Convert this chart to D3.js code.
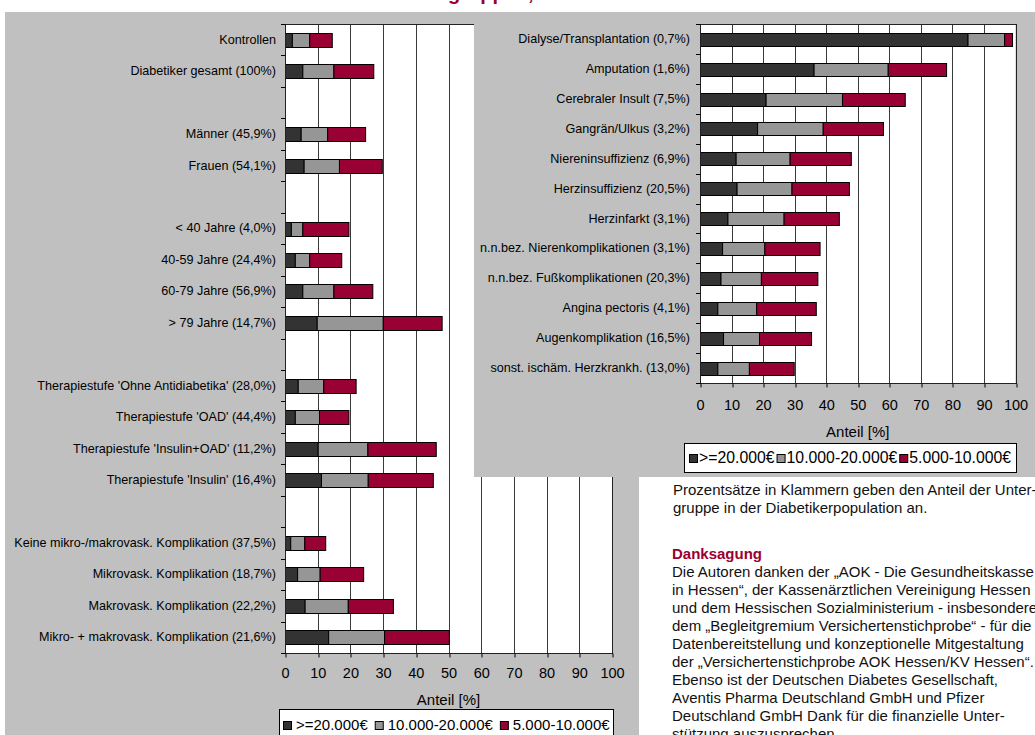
<!DOCTYPE html>
<html><head><meta charset="utf-8">
<script src="https://cdn.jsdelivr.net/npm/d3@7"></script>
<style>
body{margin:0;background:#fff;}
svg{display:block;font-family:Arial,"Liberation Sans",sans-serif;}
</style>
</head><body>
<svg id="c" width="1035" height="735"></svg>
<script>
// ---------- data ----------
const seriesNames = [">=20.000€", "10.000-20.000€", "5.000-10.000€"];
const xTicks = [0, 10, 20, 30, 40, 50, 60, 70, 80, 90, 100];
const axisTitle = "Anteil [%]";

const leftCategories = [
  "Kontrollen", "Diabetiker gesamt (100%)", "",
  "Männer (45,9%)", "Frauen (54,1%)", "",
  "< 40 Jahre (4,0%)", "40-59 Jahre (24,4%)", "60-79 Jahre (56,9%)", "> 79 Jahre (14,7%)", "",
  "Therapiestufe 'Ohne Antidiabetika' (28,0%)", "Therapiestufe 'OAD' (44,4%)",
  "Therapiestufe 'Insulin+OAD' (11,2%)", "Therapiestufe 'Insulin' (16,4%)", "",
  "Keine mikro-/makrovask. Komplikation (37,5%)", "Mikrovask. Komplikation (18,7%)",
  "Makrovask. Komplikation (22,2%)", "Mikro- + makrovask. Komplikation (21,6%)"
];
const leftHigh = [2.1, 5.3, null, 4.8, 5.7, null, 1.8, 3.0, 5.3, 9.7, null, 3.9, 3.0, 10.0, 11.0, null, 1.6, 3.7, 6.0, 13.2];
const leftMid  = [5.3, 9.5, null, 8.1, 10.8, null, 3.5, 4.4, 9.5, 20.2, null, 7.8, 7.4, 15.2, 14.3, null, 4.3, 6.9, 13.2, 17.1];
const leftLow  = [6.9, 12.2, null, 11.6, 13.1, null, 14.1, 9.8, 11.9, 18.0, null, 9.9, 9.0, 20.9, 19.9, null, 6.4, 13.3, 13.8, 19.8];

const rightCategories = [
  "Dialyse/Transplantation (0,7%)", "Amputation (1,6%)", "Cerebraler Insult (7,5%)",
  "Gangrän/Ulkus (3,2%)", "Niereninsuffizienz (6,9%)", "Herzinsuffizienz (20,5%)",
  "Herzinfarkt (3,1%)", "n.n.bez. Nierenkomplikationen (3,1%)", "n.n.bez. Fußkomplikationen (20,3%)",
  "Angina pectoris (4,1%)", "Augenkomplikation (16,5%)", "sonst. ischäm. Herzkrankh. (13,0%)"
];
const rightHigh = [84.8, 36.0, 20.8, 18.1, 11.3, 11.6, 8.7, 7.0, 6.5, 5.5, 7.3, 5.5];
const rightMid  = [11.6, 23.5, 24.2, 20.8, 17.1, 17.4, 17.8, 13.4, 12.8, 12.3, 11.4, 10.0];
const rightLow  = [2.5, 18.5, 19.9, 19.1, 19.4, 18.2, 17.5, 17.5, 17.9, 18.9, 16.5, 14.2];

const titleText = "Untergruppen,";
const noteLines = [
  "Prozentsätze in Klammern geben den Anteil der Unter-",
  "gruppe in der Diabetikerpopulation an."
];
const thanksTitle = "Danksagung";
const thanksLines = [
  "Die Autoren danken der „AOK - Die Gesundheitskasse",
  "in Hessen“, der Kassenärztlichen Vereinigung Hessen",
  "und dem Hessischen Sozialministerium - insbesondere",
  "dem „Begleitgremium Versichertenstichprobe“ - für die",
  "Datenbereitstellung und konzeptionelle Mitgestaltung",
  "der „Versichertenstichprobe AOK Hessen/KV Hessen“.",
  "Ebenso ist der Deutschen Diabetes Gesellschaft,",
  "Aventis Pharma Deutschland GmbH und Pfizer",
  "Deutschland GmbH Dank für die finanzielle Unter-",
  "stützung auszusprechen."
];

// ---------- styles ----------
const colors = ["#333333", "#969696", "#990033"];
const panelGray = "#c0c0c0";
const maroon = "#990033";

const svg = d3.select("#c");

function drawChart(cfg) {
  const g = svg.append("g");
  const x = d3.scaleLinear().domain([0, 100]).range([cfg.x0, cfg.x1]);
  const keys = cfg.cats.map((c, i) => i);
  const y = d3.scaleBand().domain(keys).range([cfg.y0, cfg.y1])
    .paddingInner(cfg.pad).paddingOuter(cfg.pad / 2);

  g.append("rect").attr("x", cfg.x0).attr("y", cfg.y0)
    .attr("width", cfg.x1 - cfg.x0).attr("height", cfg.y1 - cfg.y0).attr("fill", "#fff");

  // grid lines
  g.selectAll("line.grid").data(xTicks.slice(1, -1)).join("line")
    .attr("x1", d => Math.round(x(d)) + 0.5).attr("x2", d => Math.round(x(d)) + 0.5)
    .attr("y1", cfg.y0).attr("y2", cfg.y1)
    .attr("stroke", "#3a3a3a").attr("stroke-width", 1);

  // stacked bars
  const rows = cfg.cats.map((c, i) => ({ key: i, high: cfg.high[i], mid: cfg.mid[i], low: cfg.low[i] }))
    .filter(r => r.high != null);
  const stacked = d3.stack().keys(["high", "mid", "low"])(rows);
  g.selectAll("g.series").data(stacked).join("g").attr("class", "series")
    .attr("fill", (d, i) => colors[i])
    .selectAll("rect").data(d => d).join("rect")
    .attr("x", d => x(d[0]) + 0.5)
    .attr("width", d => Math.max(0, x(d[1]) - x(d[0])))
    .attr("y", d => Math.round(y(d.data.key)) + 0.5)
    .attr("height", Math.round(y.bandwidth()))
    .attr("stroke", "#000").attr("stroke-width", 1);

  // plot border
  g.append("rect").attr("x", Math.round(cfg.x0) + 0.5).attr("y", Math.round(cfg.y0) + 0.5)
    .attr("width", Math.round(cfg.x1 - cfg.x0)).attr("height", Math.round(cfg.y1 - cfg.y0))
    .attr("fill", "none").attr("stroke", "#222").attr("stroke-width", 1);

  // category tick marks (between categories)
  const step = y.step();
  const bounds = d3.range(cfg.cats.length + 1).map(i => cfg.y0 + i * step);
  g.selectAll("line.ytick").data(bounds).join("line")
    .attr("x1", Math.round(cfg.x0) - 4).attr("x2", Math.round(cfg.x0) + 0.5)
    .attr("y1", d => Math.round(d) + 0.5).attr("y2", d => Math.round(d) + 0.5)
    .attr("stroke", "#000");

  // category labels via axis
  const ya = g.append("g").attr("transform", `translate(${cfg.x0},0)`)
    .call(d3.axisLeft(y).tickSize(0).tickPadding(cfg.labelPad).tickFormat(i => cfg.cats[i]));
  ya.select(".domain").remove();
  ya.selectAll("text").attr("font-size", cfg.labelSize).attr("fill", "#000")
    .attr("font-family", "Arial, 'Liberation Sans', sans-serif");

  // x axis
  const xa = g.append("g").attr("transform", `translate(0,${Math.round(cfg.y1) + 0.5})`)
    .call(d3.axisBottom(x).tickValues(xTicks).tickSize(4).tickSizeOuter(0).tickPadding(cfg.tickPad));
  xa.select(".domain").remove();
  xa.selectAll("line").attr("stroke", "#000")
    .attr("transform", d => `translate(${Math.round(x(d)) + 0.5 - x(d)},0)`);
  xa.selectAll("text").attr("font-size", cfg.tickSize).attr("fill", "#000")
    .attr("font-family", "Arial, 'Liberation Sans', sans-serif");

  // axis title
  g.append("text").attr("x", (cfg.x0 + cfg.x1) / 2).attr("y", cfg.titleY)
    .attr("text-anchor", "middle").attr("font-size", 15).attr("fill", "#000").text(axisTitle);

  // legend
  const lg = g.append("g");
  lg.append("rect").attr("x", cfg.leg.x + 0.5).attr("y", cfg.leg.y + 0.5)
    .attr("width", cfg.leg.w).attr("height", cfg.leg.h)
    .attr("fill", "#fff").attr("stroke", "#000");
  const items = lg.append("g");
  let cx = 0;
  const cy = cfg.leg.y + cfg.leg.h / 2;
  seriesNames.forEach((name, i) => {
    items.append("rect").attr("x", cx + 0.5).attr("y", Math.round(cy - 4) + 0.5)
      .attr("width", 8).attr("height", 8).attr("fill", colors[i]).attr("stroke", "#000");
    cx += 8 + cfg.leg.markGap;
    const t = items.append("text").attr("x", cx).attr("y", cy).attr("dy", "0.35em")
      .attr("font-size", cfg.leg.size).attr("fill", "#000").text(name);
    cx += t.node().getComputedTextLength() + cfg.leg.itemGap;
  });
  cx -= cfg.leg.itemGap;
  items.attr("transform", `translate(${Math.round(cfg.leg.x + (cfg.leg.w - cx) / 2)},0)`);
}

// left panel background
svg.append("rect").attr("x", 5).attr("y", 12).attr("width", 634).attr("height", 723).attr("fill", panelGray);

drawChart({
  cats: leftCategories, high: leftHigh, mid: leftMid, low: leftLow,
  x0: 285, x1: 612, y0: 24, y1: 653, pad: 0.56,
  labelPad: 9, labelSize: 12.6, tickPad: 10, tickSize: 14.5, titleY: 705,
  leg: { x: 279, y: 709, w: 334, h: 32, size: 15, markGap: 5, itemGap: 7 }
});

// right panel background (overlaps left chart)
svg.append("rect").attr("x", 474).attr("y", 12).attr("width", 561).attr("height", 465).attr("fill", panelGray);

drawChart({
  cats: rightCategories, high: rightHigh, mid: rightMid, low: rightLow,
  x0: 700, x1: 1015.5, y0: 24, y1: 383, pad: 0.58,
  labelPad: 10, labelSize: 12.6, tickPad: 12, tickSize: 14.5, titleY: 437,
  leg: { x: 684, y: 443, w: 332, h: 29, size: 15.8, markGap: 2, itemGap: 2 }
});

// clipped title at very top (only descenders visible)
const title = svg.append("text").attr("y", 0).attr("font-size", 20).attr("font-weight", "bold")
  .attr("fill", maroon).text(titleText);
const gi = titleText.indexOf("g");
const off = title.node().getSubStringLength(0, gi);
title.attr("x", 448 - off);

// notes text
const tg = svg.append("g").attr("font-size", 15).attr("fill", "#111");
noteLines.forEach((l, i) => tg.append("text").attr("x", 673).attr("y", 495 + i * 18).text(l));
tg.append("text").attr("x", 672).attr("y", 559).attr("font-weight", "bold").attr("fill", maroon).text(thanksTitle);
thanksLines.forEach((l, i) => tg.append("text").attr("x", 672).attr("y", 577 + i * 18).text(l));
</script>
</body></html>
